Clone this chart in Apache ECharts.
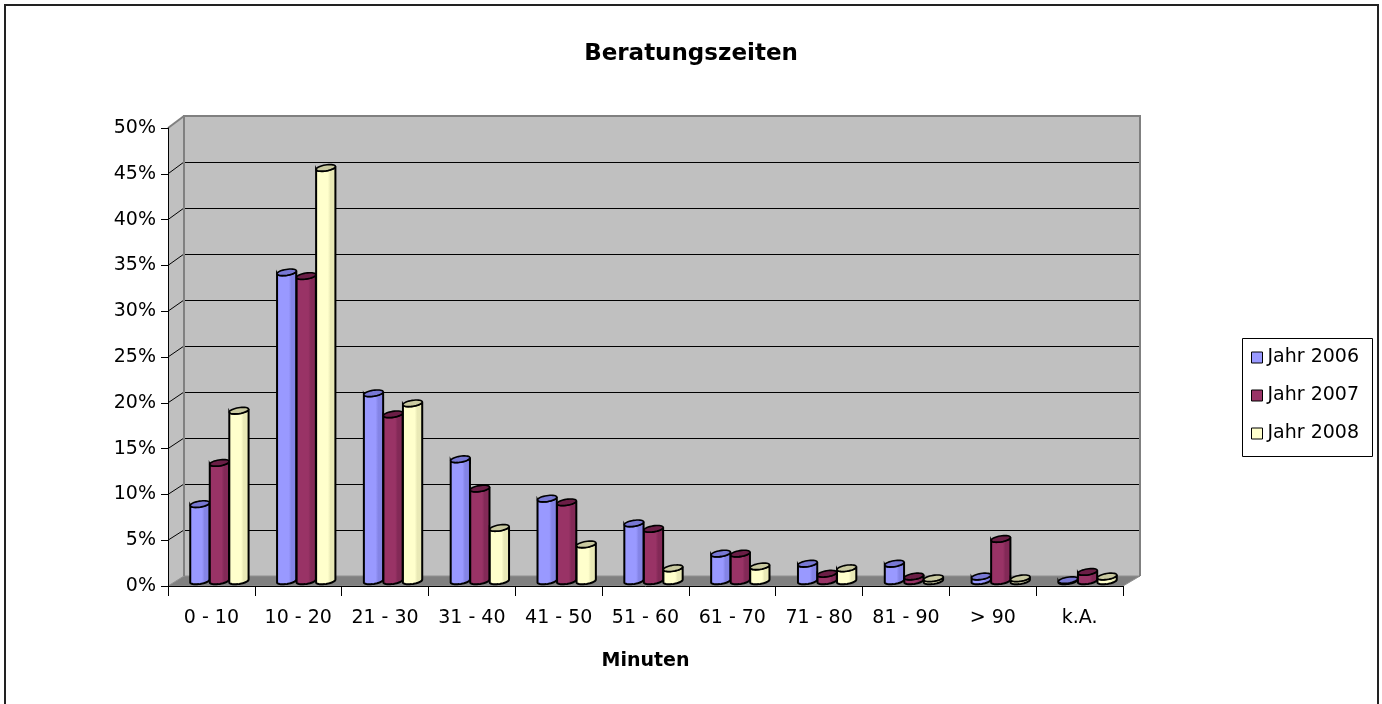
<!DOCTYPE html>
<html><head><meta charset="utf-8">
<script src="https://cdn.jsdelivr.net/npm/echarts@6/dist/echarts.min.js"></script>
<style>html,body{margin:0;padding:0;background:#fff}#c{width:1382px;height:704px}</style>
</head><body><div id="c"></div>
<script>
const categories = ['0 - 10','10 - 20','21 - 30','31 - 40','41 - 50','51 - 60','61 - 70','71 - 80','81 - 90','> 90','k.A.'];
const jahr2006 = [8.4, 33.7, 20.5, 13.3, 9.0, 6.3, 3.0, 1.9, 1.9, 0.5, 0.1];
const jahr2007 = [12.9, 33.3, 18.2, 10.1, 8.6, 5.7, 3.0, 0.8, 0.5, 4.6, 1.0];
const jahr2008 = [18.6, 45.1, 19.4, 5.8, 4.0, 1.4, 1.6, 1.4, 0.3, 0.3, 0.5];
const seriesNames = ['Jahr 2006','Jahr 2007','Jahr 2008'];
const yTickValues = [0,5,10,15,20,25,30,35,40,45,50];

const FONT = 'DejaVu Sans';
const palettes = [
  {light:'#9999FF', dark:'#8484E6', top:'#7878D4'},
  {light:'#993366', dark:'#832957', top:'#6B1E46'},
  {light:'#FFFFCC', dark:'#E9E9B6', top:'#C9C9A0'}
];
const G0 = {left:184, top:116, width:956, height:460};   // back wall
const G1 = {left:176, top:123, width:955, height:458};   // bar plane
const G2 = {left:168, top:128, width:955, height:458};   // front axes
const LEGEND_BOX = {x:1242, y:338, width:130, height:118};

function ellipsePts(cx, cy, rx, ry, rot, a0, a1, n) {
  const pts = [];
  const cr = Math.cos(rot), sr = Math.sin(rot);
  for (let k = 0; k <= n; k++) {
    const t = a0 + (a1 - a0) * k / n;
    const ex = rx * Math.cos(t), ey = ry * Math.sin(t);
    pts.push([cx + ex * cr - ey * sr, cy + ex * sr + ey * cr]);
  }
  return pts;
}

function makeRender(si) {
  const pal = palettes[si];
  return function (params, api) {
    const ci = api.value(0), v = api.value(1);
    const band = api.size([1, 0])[0];
    const w = band * 0.225;
    const p = api.coord([ci, v]);
    const b = api.coord([ci, 0]);
    const cx = p[0] + (si - 1) * w;
    const rx = w / 2, ry = w * 0.15, rot = -0.16;
    const yt = p[1], yb = b[1];
    const bot = ellipsePts(cx, yb, rx, ry, rot, Math.PI, 0, 18);
    const topF = ellipsePts(cx, yt, rx, ry, rot, 0, Math.PI, 18);
    const topAll = ellipsePts(cx, yt, rx, ry, rot, 0, Math.PI * 2, 36);
    const grad = {type:'linear', x:0, y:0, x2:1, y2:0, colorStops:[
      {offset:0, color:pal.dark}, {offset:0.12, color:pal.light},
      {offset:0.6, color:pal.light}, {offset:0.72, color:pal.dark}, {offset:1, color:pal.dark}]};
    return {
      type:'group',
      children:[
        {type:'polygon', shape:{points: bot.concat(topF)}, style:{fill:grad, stroke:'#000', lineWidth:2}},
        {type:'polygon', shape:{points: topAll}, style:{fill:pal.top, stroke:'#000', lineWidth:1.6}}
      ]
    };
  };
}

const seriesData = [jahr2006, jahr2007, jahr2008];
const series = seriesData.map((arr, si) => ({
  name: seriesNames[si],
  type: 'custom',
  xAxisIndex: 1, yAxisIndex: 1,
  z: 3,
  itemStyle: {color: palettes[si].light},
  renderItem: makeRender(si),
  encode: {x: 0, y: 1},
  data: arr.map((v, i) => [i, v])
}));

const txt = {fontFamily: FONT, color: '#000'};
const option = {
  animation: false,
  backgroundColor: '#fff',
  title: {text:'Beratungszeiten', left:'center', top:38,
    textStyle:{fontFamily:FONT, fontSize:23, fontWeight:'bold', color:'#000'}},
  legend: {
    orient:'vertical', left:LEGEND_BOX.x + 9, top:LEGEND_BOX.y + 9,
    data: seriesNames, icon:'rect', itemWidth:11, itemHeight:11, itemGap:17,
    borderWidth:0, padding:0,
    itemStyle:{borderColor:'#000', borderWidth:1},
    textStyle:Object.assign({fontSize:19, lineHeight:21}, txt)
  },
  grid: [
    Object.assign({show:true, backgroundColor:'#C0C0C0', borderWidth:0}, G0),
    Object.assign({}, G1),
    Object.assign({}, G2)
  ],
  xAxis: [
    {gridIndex:0, type:'category', data:categories, show:false},
    {gridIndex:1, type:'category', data:categories, show:false},
    {gridIndex:2, type:'category', data:categories, z:6,
      axisLine:{show:true, lineStyle:{color:'#000', width:1}},
      axisTick:{show:true, interval:0, length:10, lineStyle:{color:'#000', width:1}},
      axisLabel:Object.assign({fontSize:19, margin:23, interval:0}, txt),
      name:'Minuten', nameLocation:'middle', nameGap:66,
      nameTextStyle:Object.assign({fontSize:19, fontWeight:'bold'}, txt)}
  ],
  yAxis: [
    {gridIndex:0, type:'value', min:0, max:50, interval:5,
      axisLine:{show:false}, axisTick:{show:false}, axisLabel:{show:false},
      splitLine:{show:true, lineStyle:{color:'#000', width:1}}},
    {gridIndex:1, type:'value', min:0, max:50, show:false, splitLine:{show:false}},
    {gridIndex:2, type:'value', min:0, max:50, interval:5, z:6,
      axisLine:{show:true, lineStyle:{color:'#000', width:1}},
      axisTick:{show:true, length:7, lineStyle:{color:'#000', width:1}},
      axisLabel:Object.assign({fontSize:19, margin:12, formatter:'{value}%'}, txt),
      splitLine:{show:false}}
  ],
  series: series
};

const chart = echarts.init(document.getElementById('c'), null, {renderer:'canvas'});
chart.setOption(option);

const fy = v => chart.convertToPixel({yAxisIndex:2}, v);
const by = v => chart.convertToPixel({yAxisIndex:0}, v);
const fxL = G2.left, fxR = G2.left + G2.width;
const bxL = G0.left, bxR = G0.left + G0.width;
const topV = yTickValues[yTickValues.length - 1];
const elements = [];
// side wall
elements.push({type:'polygon', z:1, shape:{points:[[fxL, fy(0)], [fxL, fy(topV)], [bxL, by(topV)], [bxL, by(0)]]},
  style:{fill:'#C0C0C0'}});
// floor
elements.push({type:'polygon', z:1, shape:{points:[[fxL, fy(0)], [fxR, fy(0)], [bxR, by(0)], [bxL, by(0)]]},
  style:{fill:'#808080', stroke:'#909090', lineWidth:1}});
// side wall grid lines
yTickValues.forEach(v => {
  if (v === 0) return;
  const edge = v === topV;
  elements.push({type:'line', z:1, shape:{x1:fxL, y1:fy(v), x2:bxL, y2:by(v)},
    style:{stroke: edge ? '#808080' : '#000', lineWidth: edge ? 2 : 1}});
});
// back wall edges
elements.push({type:'polyline', z:1, shape:{points:[[bxL, by(0)], [bxL, by(topV)], [bxR, by(topV)], [bxR, by(0)]]},
  style:{stroke:'#808080', lineWidth:2, fill:null}});
// legend frame
elements.push({type:'rect', z:0, shape:{x:LEGEND_BOX.x + 0.5, y:LEGEND_BOX.y + 0.5, width:LEGEND_BOX.width, height:LEGEND_BOX.height},
  style:{fill:'#fff', stroke:'#000', lineWidth:1}});
// outer frame
elements.push({type:'rect', z:10, shape:{x:5, y:5, width:1373, height:720},
  style:{fill:null, stroke:'#222', lineWidth:2}});
chart.setOption({graphic:{elements: elements}});
</script>
</body></html>
